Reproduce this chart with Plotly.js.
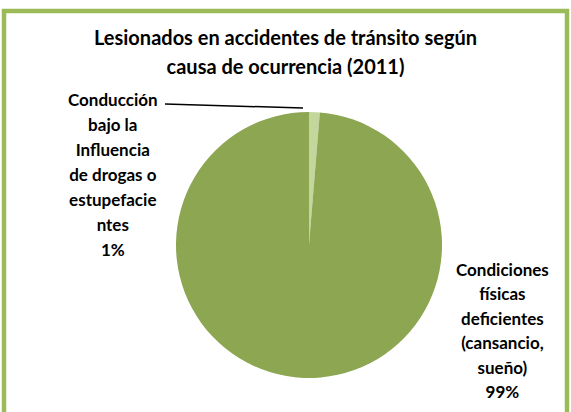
<!DOCTYPE html>
<html>
<head>
<meta charset="utf-8">
<script src="https://cdn.plot.ly/plotly-3.0.1.min.js"></script>
<style>
  html, body { margin: 0; padding: 0; background: #fff; overflow: hidden; }
  #chart { width: 571px; height: 412px; }
</style>
</head>
<body>
<div id="chart"></div>
<script>
// ---- data ----
const categories = [
  'Conducción bajo la Influencia de drogas o estupefacientes',
  'Condiciones físicas deficientes (cansancio, sueño)'
];
const labelLines = [
  ['Conducción', 'bajo la', 'Influencia', 'de drogas o', 'estupefacie', 'ntes'],
  ['Condiciones', 'físicas', 'deficientes', '(cansancio,', 'sueño)']
];
const values = [1.3, 98.7];
const sliceColors = ['#C3D69B', '#8CA652'];
const titleLines = ['Lesionados en accidentes de tránsito según', 'causa de ocurrencia (2011)'];

// ---- helpers ----
const W = 571, H = 412;
const px = x => x / W;
const py = y => 1 - y / H;
const total = values.reduce((a, b) => a + b, 0);
const pct = values.map(v => Math.round(v / total * 100) + '%');
const FONT = 'Lato, "Open Sans", sans-serif';
const wrap = (lines, fs) => lines.map(l => '<span style="font-size:' + fs + 'px">' + l + '</span>').join('<br>');

const trace = {
  type: 'pie',
  labels: categories,
  values: values,
  sort: false,
  direction: 'counterclockwise',
  rotation: 0,
  textinfo: 'none',
  hoverinfo: 'label+percent',
  marker: { colors: sliceColors, line: { width: 0 } },
  domain: { x: [px(176), px(442)], y: [py(378), py(112)] },
  showlegend: false
};

const layout = {
  width: W, height: H,
  margin: { l: 0, r: 0, t: 0, b: 0 },
  paper_bgcolor: '#ffffff',
  showlegend: false,
  title: {
    text: wrap(titleLines, 20),
    x: 0.5, xanchor: 'center',
    y: py(45), yanchor: 'middle',
    font: { family: FONT, size: 22, weight: 700, color: '#000000' }
  },
  annotations: [
    {
      text: wrap(labelLines[0].concat([pct[0]]), 17),
      xref: 'paper', yref: 'paper', x: px(113), y: py(175),
      xanchor: 'center', yanchor: 'middle', showarrow: false, align: 'center',
      font: { family: FONT, size: 19.2, weight: 700, color: '#000000' }
    },
    {
      text: wrap(labelLines[1].concat([pct[1]]), 17),
      xref: 'paper', yref: 'paper', x: px(502), y: py(330),
      xanchor: 'center', yanchor: 'middle', showarrow: false, align: 'center',
      font: { family: FONT, size: 18.8, weight: 700, color: '#000000' }
    }
  ],
  shapes: [
    {
      type: 'rect', xref: 'paper', yref: 'paper',
      x0: px(4), x1: px(567), y0: -0.05, y1: py(11),
      line: { color: '#9BBB59', width: 4.5 }, fillcolor: 'rgba(0,0,0,0)'
    },
    {
      type: 'line', xref: 'paper', yref: 'paper',
      x0: px(165), y0: py(104), x1: px(303), y1: py(108),
      line: { color: '#000000', width: 1.5 }
    }
  ]
};

Plotly.newPlot('chart', [trace], layout, { displayModeBar: false, staticPlot: true });
</script>
</body>
</html>
